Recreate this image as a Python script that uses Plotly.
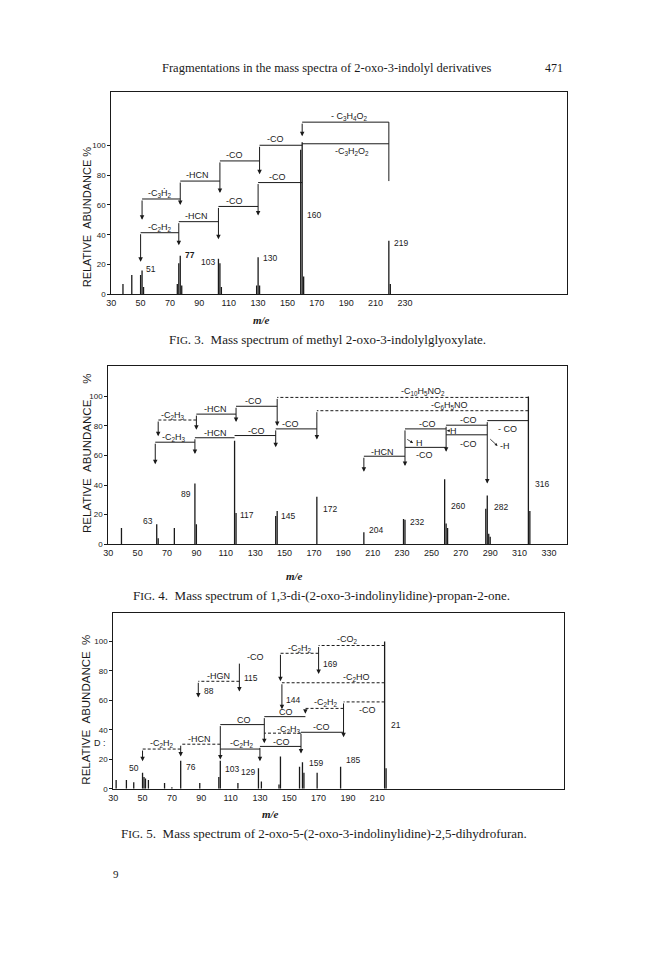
import plotly.graph_objects as go

PAGE_W, PAGE_H = 648, 959
BODY = 8  # default page margin of the html body
FIG_W, FIG_H = PAGE_W - 2 * BODY, PAGE_H - 2 * BODY

NB = "\u00a0"
header_text = "Fragmentations in the mass spectra of 2-oxo-3-indolyl derivatives"
page_number = "471"
footer_number = "9"
y_titles = ["RELATIVE" + NB * 2 + "ABUNDANCE" + NB + "%",
            "RELATIVE" + NB * 2 + "ABUNDANCE" + NB * 5 + "%",
            "RELATIVE" + NB * 2 + "ABUNDANCE" + NB * 2 + "%"]
x_title = "<b><i>m/e</i></b>"

captions = [
    "F<span style='font-size:11px'>IG</span>. 3.  Mass spectrum of methyl 2-oxo-3-indolylglyoxylate.",
    "F<span style='font-size:11px'>IG</span>. 4.  Mass spectrum of 1,3-di-(2-oxo-3-indolinylidine)-propan-2-one.",
    "F<span style='font-size:11px'>IG</span>. 5.  Mass spectrum of 2-oxo-5-(2-oxo-3-indolinylidine)-2,5-dihydrofuran.",
]

y_ticks = [0, 20, 40, 60, 80, 100]

# ---------------- Fig. 3 ----------------
f3_mz = [38, 44, 50, 51, 52, 75, 76, 77, 78, 103, 104, 105, 129, 130, 131, 159, 160, 161, 219, 220]
f3_ab = [7, 13, 13, 16, 5, 7, 21, 26, 6, 24, 21, 5, 6, 25, 6, 97, 102, 12, 36, 7]
f3_xticks = [30, 50, 70, 90, 110, 130, 150, 170, 190, 210, 230]
f3_peaks = [("51", 52.5, 17, "left"), ("<b>77</b>", 79, 26.5, "left"), ("103", 102, 22, "right"),
            ("130", 132, 24.5, "left"), ("160", 162, 53, "left"), ("219", 221, 34.5, "left")]
# (from m/e, to m/e, level %, arrow tip % or None, label, label x, label y, dashed)
f3_steps = [
    (219, 160, 115.5, 106, "- C<sub>3</sub>H<sub>4</sub>O<sub>2</sub>", 192, 119.5, False),
    (219, 160, 101, None, "-C<sub>3</sub>H<sub>2</sub>O<sub>2</sub>", 194, 95.5, False),
    (160, 131, 100, 80.5, "-CO", 142, 104, False),
    (131, 104, 89.5, 68, "-CO", 114, 93.5, False),
    (104, 77, 76, 60, "-HCN", 89, 79.8, False),
    (77, 51, 64, 50, "-C<sub>3</sub>Ḣ<sub>2</sub>", 63, 68, False),
    (160, 130, 75, 53, "-CO", 143, 79, False),
    (130, 103, 59, 37, "-CO", 114, 62.8, False),
    (103, 76, 48.8, 33, "-HCN", 88, 52.6, False),
    (76, 50, 41.4, 22, "-C<sub>2</sub>H<sub>2</sub>", 63, 45, False),
]
f3_risers = [(219, 76, 115.5)]
f3_small = []

# ---------------- Fig. 4 ----------------
f4_mz = [39, 63, 64, 75, 89, 90, 116, 117, 144, 145, 172, 204, 231, 232, 259, 260, 261, 287, 288, 289, 290, 316, 317]
f4_ab = [11, 13.5, 4, 11, 41, 13.5, 70, 21, 19, 22.5, 32, 8, 17, 16.5, 44, 14, 11, 24, 33, 7, 5, 100, 22.5]
f4_xticks = [30, 50, 70, 90, 110, 130, 150, 170, 190, 210, 230, 250, 270, 290, 310, 330]
f4_peaks = [("63", 61.5, 16, "right"), ("89", 87.5, 34, "right"), ("117", 118.5, 19.5, "left"),
            ("145", 146.5, 19, "left"), ("172", 174.5, 24, "left"), ("204", 206, 9.5, "left"),
            ("232", 234, 15, "left"), ("260", 262, 26, "left"), ("282", 291, 25, "left"),
            ("316", 319, 41, "left")]
f4_steps = [
    (316, 145, 99.3, 80, "-C<sub>10</sub>H<sub>5</sub>NO<sub>2</sub>", 244, 103.5, True),
    (316, 172, 90.3, 70.8, "-C<sub>6</sub>H<sub>5</sub>NO", 262, 93.5, True),
    (145, 117, 93.3, 82.7, "-CO", 129, 96.8, False),
    (117, 90, 88, 77.5, "-HCN", 103, 91.8, False),
    (90, 64, 84, 73, "-C<sub>2</sub>H<sub>3</sub>", 74, 87, True),
    (172, 144, 78, 65.6, "-CO", 154, 81.3, False),
    (144, 116, 73.5, 72, "-CO", 131, 76.8, False),
    (116, 89, 72, 61, "-HCN", 103, 75.5, False),
    (89, 62, 69, 54, "-C<sub>2</sub>H<sub>3</sub>", 75, 72.5, False),
    (316, 288, 83.6, 41, "- CO", 302, 78, False),
    (288, 260, 80.5, 62.5, "-CO", 275, 84, False),
    (288, 260, 74, None, "-CO", 275, 67.5, False),
    (260, 232, 78, 52.8, "-CO", 247, 81.5, False),
    (260, 232, 65.5, None, "-CO", 245, 60.5, False),
    (232, 204, 59.5, 49, "-HCN", 217, 62.5, False),
]
f4_risers = []
# small hydrogen-loss arrows: (tail x, tail y, head x, head y, label)
f4_small = [(263.5, 76.8, 260.5, 76.8, "H"), (289, 72, 295, 66.5, "-H"), (232.5, 71.5, 237.5, 68.5, "H")]

# ---------------- Fig. 5 ----------------
f5_mz = [32, 39, 44, 50, 51, 52, 54, 65, 70, 76, 89, 102, 103, 115, 129, 131, 143, 144, 157, 159, 160, 169, 185, 215, 216]
f5_ab = [6, 6, 4.5, 11, 8, 7, 6, 4, 1, 19, 4, 8, 19, 4, 14, 5, 3, 22, 15, 18, 11, 11, 15, 100, 14]
f5_xticks = [30, 50, 70, 90, 110, 130, 150, 170, 190, 210]
f5_peaks = [("50", 49, 14, "right"), ("76", 78, 15, "left"), ("103", 105, 13.5, "left"),
            ("129", 128, 11.5, "right"), ("159", 162, 17.5, "left"), ("185", 187, 19.5, "left"),
            ("21", 218, 43.5, "left"), ("169", 171.5, 85, "left"), ("144", 146.5, 60.5, "left"),
            ("115", 118, 75.5, "left"), ("88", 90.5, 66.5, "left")]
f5_steps = [
    (215, 170, 97.3, 78, "-CO<sub>2</sub>", 190, 101.5, True),
    (170, 144, 92, 73, "-C<sub>2</sub>H<sub>2</sub>", 157, 95.5, True),
    (215, 145, 72, 54, "-C<sub>2</sub>HO", 196, 75.5, True),
    (116, 116, 86, 66, "-CO", 127, 89.5, False),
    (116, 88, 73, 62, "-HGN", 102, 76.5, True),
    (215, 187, 59, 35, "-CO", 203, 53.5, True),
    (187, 161, 54.6, 51, "-C<sub>2</sub>H<sub>2</sub>", 175, 58.3, True),
    (161, 133, 49, 31, "CO", 148, 52, False),
    (133, 103, 43.6, 20, "CO", 119, 46.8, False),
    (187, 158, 38.4, 24, "-CO", 172, 42, False),
    (158, 133, 37.8, None, "-C<sub>2</sub>H<sub>3</sub>", 150, 40.5, True),
    (158, 130, 28.8, 18.7, "-CO", 145, 31.5, False),
    (130, 103, 27, None, "-C<sub>2</sub>H<sub>2</sub>", 118, 30.5, False),
    (103, 76, 30.3, 22, "-HCN", 89, 33.5, True),
    (76, 50, 27, 18.7, "-C<sub>2</sub>H<sub>2</sub>", 63, 30.8, True),
]
f5_risers = []
f5_small = []

# ---------------- page geometry (page pixels) ----------------
panels = [
    dict(mz=f3_mz, ab=f3_ab, xticks=f3_xticks, peaks=f3_peaks, steps=f3_steps, risers=f3_risers,
         small=f3_small, xr=[30, 340], yr=[0, 136], px=(107, 566), py=(92, 296),
         ytitle_y=218, ytitle_size=11, mx=258, my=322, cx=325, cy=341),
    dict(mz=f4_mz, ab=f4_ab, xticks=f4_xticks, peaks=f4_peaks, steps=f4_steps, risers=f4_risers,
         small=f4_small, xr=[30, 342], yr=[0, 120.5], px=(104, 566), py=(368, 547),
         ytitle_y=455, ytitle_size=11.5, mx=292, my=579, cx=319, cy=599),
    dict(mz=f5_mz, ab=f5_ab, xticks=f5_xticks, peaks=f5_peaks, steps=f5_steps, risers=f5_risers,
         small=f5_small, xr=[30, 337], yr=[0, 119.5], px=(109, 563), py=(616, 793),
         ytitle_y=713, ytitle_size=11.5, mx=268, my=818, cx=321, cy=838),
]

INK = "#1a1a1a"
SANS = "Liberation Sans"
SERIF = "Liberation Serif"

fig = go.Figure()
annotations = []
layout = dict(width=FIG_W, height=FIG_H, margin=dict(l=0, r=0, t=0, b=0),
              paper_bgcolor="white", plot_bgcolor="white", showlegend=False)


def fx(px):
    return (px - BODY) / FIG_W


def fy(py):
    return 1 - (py - BODY) / FIG_H


def paper_text(x, y, text, font, **kw):
    d = dict(x=fx(x), y=fy(y), xref="paper", yref="paper", text=text, showarrow=False,
             xanchor="center", yanchor="middle", font=font)
    d.update(kw)
    annotations.append(d)


for i, p in enumerate(panels, start=1):
    sfx = "" if i == 1 else str(i)
    xa, ya = "x" + sfx, "y" + sfx
    layout["xaxis" + sfx] = dict(
        domain=[fx(p["px"][0]), fx(p["px"][1])], range=p["xr"], anchor=ya,
        showline=True, mirror=True, linecolor=INK, linewidth=1, showgrid=False, zeroline=False,
        tickmode="array", tickvals=p["xticks"], ticks="", ticklen=0,
        tickfont=dict(family=SANS, size=9, color=INK), fixedrange=True)
    layout["yaxis" + sfx] = dict(
        domain=[fy(p["py"][1]), fy(p["py"][0])], range=p["yr"], anchor=xa,
        showline=True, mirror=True, linecolor=INK, linewidth=1, showgrid=False, zeroline=False,
        tickmode="array", tickvals=y_ticks, ticks="outside", ticklen=3, tickcolor=INK,
        tickfont=dict(family=SANS, size=8, color=INK), fixedrange=True)

    # spectrum lines
    bx, by = [], []
    for m, a in zip(p["mz"], p["ab"]):
        bx += [m, m, None]
        by += [0, a, None]
    fig.add_trace(go.Scatter(x=bx, y=by, mode="lines", line=dict(color=INK, width=1.3),
                             xaxis=xa, yaxis=ya, hoverinfo="skip"))

    # fragmentation scheme lines
    sx, sy, dx, dy = [], [], [], []
    for (x0, x1, lev, tip, lab, lx, ly, dashed) in p["steps"]:
        if x0 != x1:
            if dashed:
                dx += [x0, x1, None]; dy += [lev, lev, None]
            else:
                sx += [x0, x1, None]; sy += [lev, lev, None]
        if tip is not None:
            annotations.append(dict(x=x1, y=tip, ax=x1, ay=lev, xref=xa, yref=ya, axref=xa, ayref=ya,
                                    text="", showarrow=True, arrowhead=2, arrowsize=0.9, arrowwidth=1,
                                    arrowcolor=INK, standoff=0, startstandoff=0))
        annotations.append(dict(x=lx, y=ly, xref=xa, yref=ya, text=lab, showarrow=False,
                                xanchor="center", yanchor="middle",
                                font=dict(family=SANS, size=9, color=INK)))
    for (rx, r0, r1) in p["risers"]:
        sx += [rx, rx, None]; sy += [r0, r1, None]
    if sx:
        fig.add_trace(go.Scatter(x=sx, y=sy, mode="lines", line=dict(color=INK, width=1),
                                 xaxis=xa, yaxis=ya, hoverinfo="skip"))
    if dx:
        fig.add_trace(go.Scatter(x=dx, y=dy, mode="lines", line=dict(color=INK, width=1, dash="3px,2px"),
                                 xaxis=xa, yaxis=ya, hoverinfo="skip"))
    for (tx, ty, hx, hy, lab) in p["small"]:
        annotations.append(dict(x=hx, y=hy, ax=tx, ay=ty, xref=xa, yref=ya, axref=xa, ayref=ya,
                                text="", showarrow=True, arrowhead=2, arrowsize=0.7, arrowwidth=0.8,
                                arrowcolor=INK, standoff=0))
        annotations.append(dict(x=hx + 0.5, y=hy, xref=xa, yref=ya, text=lab, showarrow=False,
                                xanchor="left", yanchor="middle",
                                font=dict(family=SANS, size=9, color=INK)))

    # peak m/e labels
    for (t, px_, py_, al) in p["peaks"]:
        annotations.append(dict(x=px_, y=py_, xref=xa, yref=ya, text=t, showarrow=False,
                                xanchor=al, yanchor="middle", font=dict(family=SANS, size=8.5, color=INK)))

    # axis titles and caption
    paper_text(82, p["ytitle_y"], y_titles[i - 1], dict(family=SANS, size=p["ytitle_size"], color=INK),
               textangle=-90)
    paper_text(p["mx"], p["my"], x_title, dict(family=SERIF, size=11, color=INK))
    paper_text(p["cx"], p["cy"], captions[i - 1], dict(family=SERIF, size=13, color=INK))

# stray mark left of the Fig. 5 axis
paper_text(104, 747, "D :", dict(family=SANS, size=9, color=INK), xanchor="right")

# page header and numbers
paper_text(324, 68, header_text, dict(family=SERIF, size=12.5, color=INK))
paper_text(553, 68, page_number, dict(family=SERIF, size=12, color=INK))
paper_text(112, 879, footer_number, dict(family=SERIF, size=11, color=INK))

layout["annotations"] = annotations
fig.update_layout(**layout)
fig.write_html("out.html")
